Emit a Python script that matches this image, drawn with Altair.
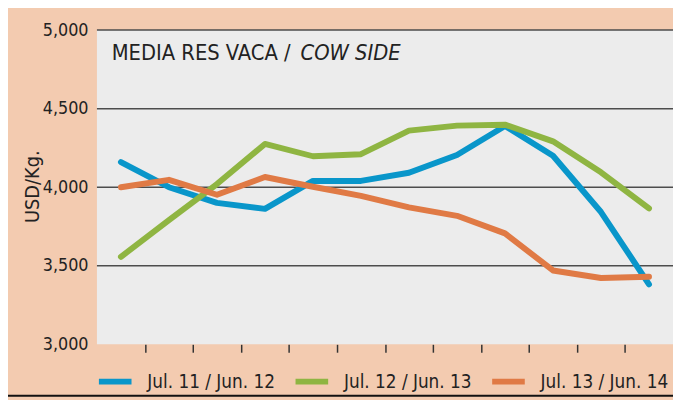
import altair as alt
import pandas as pd

months = ["Jul", "Aug", "Sep", "Oct", "Nov", "Dec", "Jan", "Feb", "Mar", "Apr", "May", "Jun"]
series_names = ["Jul. 11 / Jun. 12", "Jul. 12 / Jun. 13", "Jul. 13 / Jun. 14"]
s1 = [4160, 4000, 3900, 3862, 4040, 4040, 4092, 4205, 4390, 4200, 3842, 3382]
s2 = [3557, 3790, 4020, 4275, 4197, 4210, 4360, 4392, 4398, 4292, 4095, 3865]
s3 = [4000, 4047, 3952, 4065, 4003, 3945, 3872, 3818, 3706, 3470, 3422, 3430]
colors = ["#0996CA", "#8FB542", "#E07A45"]
y_ticks = [3000, 3500, 4000, 4500, 5000]
grid_vals = [3500, 4000, 4500, 5000]

FONT = "Liberation Sans Narrow, DejaVu Sans Condensed, Roboto, sans-serif"
TXT = "#222222"

rows = []
for name, vals in zip(series_names, [s1, s2, s3]):
    for i, (m, v) in enumerate(zip(months, vals)):
        rows.append({"series": name, "idx": i + 1, "month": m, "value": v})
df = pd.DataFrame(rows)

x_tick_vals = [i + 0.5 for i in range(1, 12)]

xscale = alt.Scale(domain=[0.5, 12.5], nice=False, zero=False)
yscale = alt.Scale(domain=[3000, 5000], nice=False, zero=False)

grid = alt.Chart(pd.DataFrame({"g": grid_vals})).mark_rule(
    color="#4d4d4d", strokeWidth=1.5
).encode(y=alt.Y("g:Q", scale=yscale))

lines = alt.Chart(df).mark_line(
    strokeWidth=6, strokeCap="round", strokeJoin="round"
).encode(
    x=alt.X("idx:Q", scale=xscale,
            axis=alt.Axis(values=x_tick_vals, labels=False, domain=False, grid=False,
                          ticks=True, tickSize=8, tickWidth=1.5, tickColor="#333333",
                          title=None)),
    y=alt.Y("value:Q", scale=yscale,
            axis=alt.Axis(values=y_ticks, format=",.0f", grid=False, domain=False, ticks=False,
                          labelPadding=9, labelFont=FONT, labelFontSize=18, labelColor=TXT,
                          title="USD/Kg.", titleFont=FONT, titleFontSize=20,
                          titleFontWeight="normal", titleColor=TXT,
                          titleX=-55, titleY=158)),
    color=alt.Color("series:N", sort=series_names,
                    scale=alt.Scale(domain=series_names, range=colors),
                    legend=alt.Legend(title=None, orient="none", direction="horizontal",
                                      legendX=-1, legendY=336,
                                      symbolType="stroke", symbolSize=1089,
                                      symbolStrokeWidth=6, labelOffset=13,
                                      columnPadding=8, labelFont=FONT,
                                      labelFontSize=19, labelColor=TXT)),
)

one = pd.DataFrame({"k": [0]})
title1 = alt.Chart(one).mark_text(
    text="MEDIA RES VACA / ", font=FONT, fontSize=22, color=TXT, align="left",
    baseline="alphabetic"
).encode(x=alt.value(15), y=alt.value(30))
title2 = alt.Chart(one).mark_text(
    text="COW SIDE", font=FONT, fontSize=22, fontStyle="italic", color=TXT,
    align="left", baseline="alphabetic"
).encode(x=alt.value(206), y=alt.value(30))

bottom_line = alt.Chart(one).mark_rule(color="#111111", strokeWidth=2).encode(
    x=alt.value(-90), x2=alt.value(583), y=alt.value(370)
)

chart = alt.layer(grid, lines, title1, title2, bottom_line).properties(
    width=583, height=318,
    background="#F3CBB0",
    padding={"left": 90, "top": 20, "right": 0, "bottom": 54},
    autosize=alt.AutoSizeParams(type="none"),
).configure_view(fill="#ECECEC", stroke=None)

chart.save("out.html", embed_options={"renderer": "svg", "actions": False})
